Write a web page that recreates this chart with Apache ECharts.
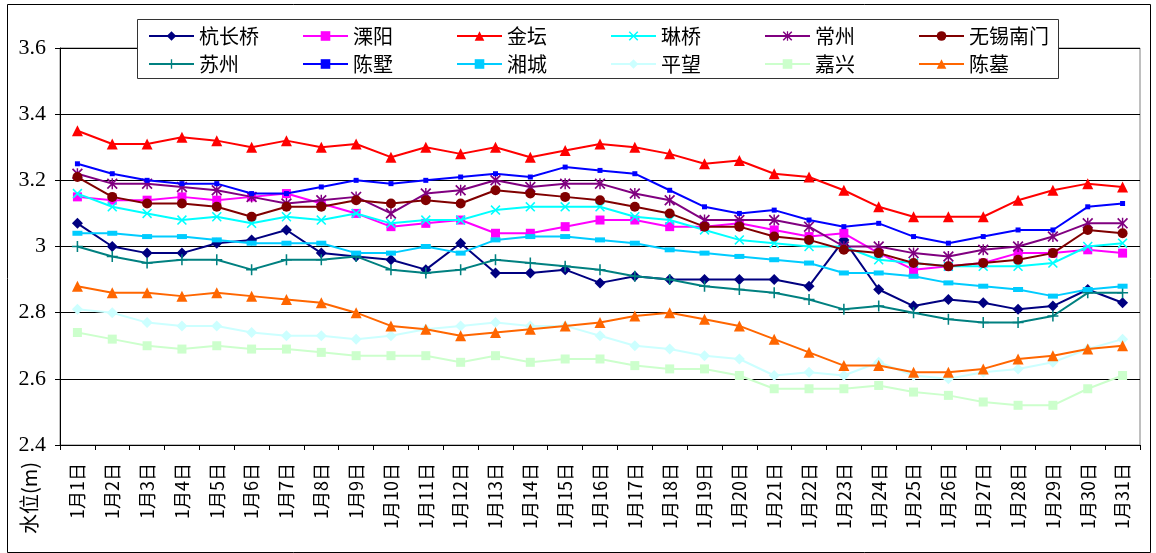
<!DOCTYPE html>
<html><head><meta charset="utf-8">
<script src="https://cdn.jsdelivr.net/npm/echarts@6/dist/echarts.min.js"></script>
<style>html,body{margin:0;padding:0;background:#fff}#c{width:1156px;height:553px}</style>
</head><body><div id="c"></div>
<script>
const categories = ['1月1日','1月2日','1月3日','1月4日','1月5日','1月6日','1月7日','1月8日','1月9日','1月10日','1月11日','1月12日','1月13日','1月14日','1月15日','1月16日','1月17日','1月18日','1月19日','1月20日','1月21日','1月22日','1月23日','1月24日','1月25日','1月26日','1月27日','1月28日','1月29日','1月30日','1月31日'];
const yTicks = [2.4, 2.6, 2.8, 3.0, 3.2, 3.4, 3.6];
const yAxisName = '水位(m)';

const hangchangqiao = [3.07,3.00,2.98,2.98,3.01,3.02,3.05,2.98,2.97,2.96,2.93,3.01,2.92,2.92,2.93,2.89,2.91,2.90,2.90,2.90,2.90,2.88,3.02,2.87,2.82,2.84,2.83,2.81,2.82,2.87,2.83];
const liyang = [3.15,3.14,3.14,3.15,3.14,3.15,3.16,3.13,3.10,3.06,3.07,3.08,3.04,3.04,3.06,3.08,3.08,3.06,3.06,3.07,3.05,3.03,3.04,2.98,2.93,2.94,2.95,2.98,2.98,2.99,2.98];
const jintan = [3.35,3.31,3.31,3.33,3.32,3.30,3.32,3.30,3.31,3.27,3.30,3.28,3.30,3.27,3.29,3.31,3.30,3.28,3.25,3.26,3.22,3.21,3.17,3.12,3.09,3.09,3.09,3.14,3.17,3.19,3.18];
const linqiao = [3.16,3.12,3.10,3.08,3.09,3.07,3.09,3.08,3.10,3.07,3.08,3.08,3.11,3.12,3.12,3.12,3.09,3.08,3.05,3.02,3.01,3.00,3.00,2.96,2.95,2.94,2.94,2.94,2.95,3.00,3.01];
const changzhou = [3.22,3.19,3.19,3.18,3.17,3.15,3.13,3.14,3.15,3.10,3.16,3.17,3.20,3.18,3.19,3.19,3.16,3.14,3.08,3.08,3.08,3.06,3.00,3.00,2.98,2.97,2.99,3.00,3.03,3.07,3.07];
const wuxinanmen = [3.21,3.15,3.13,3.13,3.12,3.09,3.12,3.12,3.14,3.13,3.14,3.13,3.17,3.16,3.15,3.14,3.12,3.10,3.06,3.06,3.03,3.02,2.99,2.98,2.95,2.94,2.95,2.96,2.98,3.05,3.04];
const suzhou = [3.00,2.97,2.95,2.96,2.96,2.93,2.96,2.96,2.97,2.93,2.92,2.93,2.96,2.95,2.94,2.93,2.91,2.90,2.88,2.87,2.86,2.84,2.81,2.82,2.80,2.78,2.77,2.77,2.79,2.86,2.86];
const chenshu = [3.25,3.22,3.20,3.19,3.19,3.16,3.16,3.18,3.20,3.19,3.20,3.21,3.22,3.21,3.24,3.23,3.22,3.17,3.12,3.10,3.11,3.08,3.06,3.07,3.03,3.01,3.03,3.05,3.05,3.12,3.13];
const xiangcheng = [3.04,3.04,3.03,3.03,3.02,3.01,3.01,3.01,2.98,2.98,3.00,2.98,3.02,3.03,3.03,3.02,3.01,2.99,2.98,2.97,2.96,2.95,2.92,2.92,2.91,2.89,2.88,2.87,2.85,2.87,2.88];
const pingwang = [2.81,2.80,2.77,2.76,2.76,2.74,2.73,2.73,2.72,2.73,2.75,2.76,2.77,2.76,2.76,2.73,2.70,2.69,2.67,2.66,2.61,2.62,2.61,2.65,2.61,2.60,2.62,2.63,2.65,2.69,2.72];
const jiaxing = [2.74,2.72,2.70,2.69,2.70,2.69,2.69,2.68,2.67,2.67,2.67,2.65,2.67,2.65,2.66,2.66,2.64,2.63,2.63,2.61,2.57,2.57,2.57,2.58,2.56,2.55,2.53,2.52,2.52,2.57,2.61];
const chenmu = [2.88,2.86,2.86,2.85,2.86,2.85,2.84,2.83,2.80,2.76,2.75,2.73,2.74,2.75,2.76,2.77,2.79,2.80,2.78,2.76,2.72,2.68,2.64,2.64,2.62,2.62,2.63,2.66,2.67,2.69,2.70];

const names = ['杭长桥','溧阳','金坛','琳桥','常州','无锡南门','苏州','陈墅','湘城','平望','嘉兴','陈墓'];
const values = [hangchangqiao, liyang, jintan, linqiao, changzhou, wuxinanmen, suzhou, chenshu, xiangcheng, pingwang, jiaxing, chenmu];

const X_PATH = 'path://M1.1,0L5,3.9L8.9,0L10,1.1L6.1,5L10,8.9L8.9,10L5,6.1L1.1,10L0,8.9L3.9,5L0,1.1Z';
const PLUS_PATH = 'path://M4.3,0H5.7V4.3H10V5.7H5.7V10H4.3V5.7H0V4.3H4.3Z';
const STAR_PATH = 'path://M1.1,0L5,3.9L8.9,0L10,1.1L6.1,5L10,8.9L8.9,10L5,6.1L1.1,10L0,8.9L3.9,5L0,1.1Z M4.35,0H5.65V10H4.35Z';
const styles = [
  {color:'#000080', symbol:'diamond', size:11},
  {color:'#FF00FF', symbol:'rect', size:9},
  {color:'#FF0000', symbol:'triangle', size:11},
  {color:'#00FFFF', symbol:X_PATH, size:10},
  {color:'#800080', symbol:STAR_PATH, size:11},
  {color:'#800000', symbol:'circle', size:10},
  {color:'#008080', symbol:PLUS_PATH, size:11},
  {color:'#0000FF', symbol:'rect', size:5},
  {color:'#00CCFF', symbol:'rect', size:[10,5]},
  {color:'#CCFFFF', symbol:'diamond', size:11},
  {color:'#CCFFCC', symbol:'rect', size:9},
  {color:'#FF6600', symbol:'triangle', size:11}
];

const series = names.map((n,i)=>({
  name:n, type:'line', data: values[i],
  symbol: styles[i].symbol, symbolSize: styles[i].size,
  lineStyle:{color:styles[i].color, width:2},
  itemStyle:{color:styles[i].color},
  showAllSymbol:true, animation:false, z: 3+i
}));

const legends = names.map((n,i)=>({
  data:[n], left: 148 + (i%6)*154, top: (i<6?26:54),
  itemWidth:45, itemHeight:12, itemGap:0, padding:0,
  textStyle:{fontFamily:'Noto Sans CJK SC', fontSize:20, color:'#000'},
  z:20
}));

const chart = echarts.init(document.getElementById('c'));
chart.setOption({
  animation:false,
  backgroundColor:'#fff',
  grid:{left:60, right:16, top:48, bottom:108, show:true, borderColor:'#808080', borderWidth:1},
  legend: legends,
  xAxis:{type:'category', data:categories, boundaryGap:true,
    axisLine:{lineStyle:{color:'#000', width:1}},
    axisTick:{show:true, interval:0, length:5, lineStyle:{color:'#000'}},
    axisLabel:{interval:0, rotate:90, margin:18, fontFamily:'Noto Sans CJK SC', fontSize:18, color:'#000'},
    splitLine:{show:false}},
  yAxis:{type:'value', min:yTicks[0], max:yTicks[yTicks.length-1], interval:0.2,
    axisLine:{show:true, lineStyle:{color:'#000', width:1}},
    axisTick:{show:true, length:5, lineStyle:{color:'#000'}},
    axisLabel:{fontFamily:'Liberation Serif', fontSize:22, color:'#000', margin:14},
    splitLine:{show:true, lineStyle:{color:'#000', width:1}}},
  graphic:[
    {type:'rect', shape:{x:7.5, y:4.5, width:1143, height:548}, style:{fill:'none', stroke:'#000', lineWidth:1}, z:-1, silent:true},
    {type:'rect', shape:{x:137.5, y:19.5, width:921, height:59}, style:{fill:'#fff', stroke:'#333', lineWidth:1}, z:10, silent:true},
    {type:'text', left:19, top:462, rotation:Math.PI/2, style:{text:yAxisName, font:'20px "Noto Sans CJK SC"', fill:'#000'}, z:10}
  ],
  series: series
});
</script></body></html>
